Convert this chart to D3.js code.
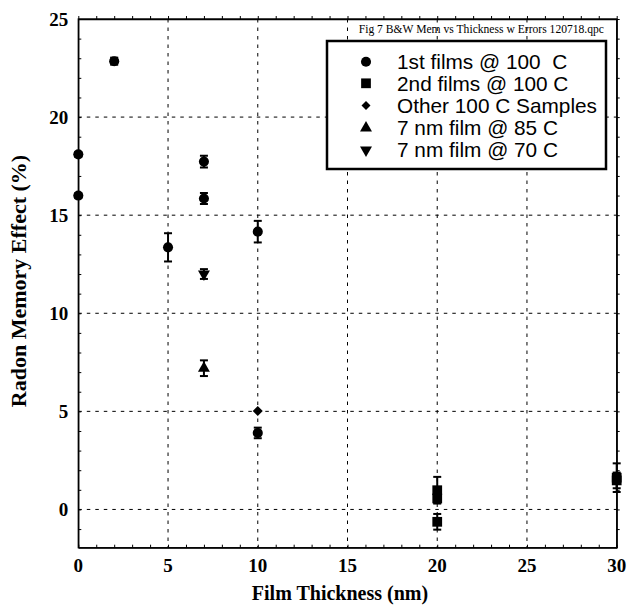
<!DOCTYPE html>
<html>
<head>
<meta charset="utf-8">
<script src="https://cdn.jsdelivr.net/npm/d3@7"></script>
<style>
  body { margin: 0; background: #fff; }
  svg { display: block; }
</style>
</head>
<body>
<svg id="chart" width="627" height="606"></svg>
<script>
// data: film thickness (nm) vs radon memory effect (%)
const firstX = [0, 0, 2, 5, 7, 7, 10, 10];
const firstY = [18.1, 16.0, 22.85, 13.36, 17.73, 15.85, 14.16, 3.9];
const firstErr = [0.12, 0.12, 0.18, 0.72, 0.3, 0.28, 0.55, 0.27];

const secondX = [20, 20, 20, 30, 30];
const secondY = [0.98, 0.56, -0.63, 1.62, 1.48];
const secondErr = [0.68, 0.2, 0.4, 0.73, 0.4];

const otherX = [10];
const otherY = [5.02];
const otherErr = [0];

const film85X = [7];
const film85Y = [7.2];
const film85Err = [0.4];

const film70X = [7];
const film70Y = [12.0];
const film70Err = [0.25];

const xTicks = [0, 5, 10, 15, 20, 25, 30];
const yTicks = [0, 5, 10, 15, 20, 25];

const legendLabels = [
  "1st films @ 100  C",
  "2nd films @ 100 C",
  "Other 100 C Samples",
  "7 nm film @ 85 C",
  "7 nm film @ 70 C",
];

const settings = {
  left: 78.3,
  right: 616.7,
  top: 19,
  bottom: 547.7,
};

const svg = d3.select("#chart");

const x = d3.scaleLinear().domain([0, 30]).range([settings.left, settings.right]);
const y = d3.scaleLinear().domain([-1.95, 25]).range([settings.bottom, settings.top]);

const serif = "'Liberation Serif', 'Times New Roman', serif";
const sans = "'Liberation Sans', Arial, sans-serif";

// dashed grid at the major ticks
const grid = svg.append("g").attr("class", "grid");
grid
  .selectAll("line.vx")
  .data(xTicks.slice(1, -1))
  .join("line")
  .attr("x1", (d) => x(d))
  .attr("x2", (d) => x(d))
  .attr("y1", settings.top)
  .attr("y2", settings.bottom)
  .attr("stroke", "#000")
  .attr("stroke-width", 1)
  .attr("stroke-dasharray", "3.5,5");
grid
  .selectAll("line.hy")
  .data(yTicks.slice(0, -1))
  .join("line")
  .attr("x1", settings.left)
  .attr("x2", settings.right)
  .attr("y1", (d) => y(d))
  .attr("y2", (d) => y(d))
  .attr("stroke", "#000")
  .attr("stroke-width", 1)
  .attr("stroke-dasharray", "3.5,5");

// axes: minor ticks every unit, labels only on left/bottom
const minorX = d3.range(0, 31, 1);
const minorY = d3.range(-1, 26, 1);

svg
  .append("g")
  .attr("transform", `translate(0, ${settings.bottom})`)
  .call(d3.axisBottom(x).tickValues(minorX).tickSize(-3).tickSizeOuter(0).tickFormat(""));
svg
  .append("g")
  .attr("transform", `translate(0, ${settings.top})`)
  .call(d3.axisTop(x).tickValues(minorX).tickSize(3).tickSizeOuter(0).tickFormat(""));
svg
  .append("g")
  .attr("transform", `translate(${settings.left}, 0)`)
  .call(d3.axisLeft(y).tickValues(minorY).tickSize(-3).tickSizeOuter(0).tickFormat(""));
svg
  .append("g")
  .attr("transform", `translate(${settings.right}, 0)`)
  .call(d3.axisRight(y).tickValues(minorY).tickSize(3).tickSizeOuter(0).tickFormat(""));

svg.selectAll(".domain").attr("stroke", "#000").attr("stroke-width", 1.3);

// frame
svg
  .append("rect")
  .attr("x", settings.left)
  .attr("y", settings.top)
  .attr("width", settings.right - settings.left)
  .attr("height", settings.bottom - settings.top)
  .attr("fill", "none")
  .attr("stroke", "#000")
  .attr("stroke-width", 1.3);

// tick labels
svg
  .append("g")
  .selectAll("text")
  .data(xTicks)
  .join("text")
  .attr("x", (d) => x(d))
  .attr("y", settings.bottom + 24)
  .attr("text-anchor", "middle")
  .attr("font-family", serif)
  .attr("font-weight", "bold")
  .attr("font-size", "19px")
  .text((d) => d);
svg
  .append("g")
  .selectAll("text")
  .data(yTicks)
  .join("text")
  .attr("x", settings.left - 10)
  .attr("y", (d) => y(d) + 6.5)
  .attr("text-anchor", "end")
  .attr("font-family", serif)
  .attr("font-weight", "bold")
  .attr("font-size", "19px")
  .text((d) => d);

// axis titles
svg
  .append("text")
  .attr("x", 340)
  .attr("y", 600)
  .attr("text-anchor", "middle")
  .attr("font-family", serif)
  .attr("font-weight", "bold")
  .attr("font-size", "20px")
  .text("Film Thickness (nm)");
svg
  .append("text")
  .attr("transform", "translate(26, 281) rotate(-90)")
  .attr("text-anchor", "middle")
  .attr("font-family", serif)
  .attr("font-weight", "bold")
  .attr("font-size", "22px")
  .text("Radon Memory Effect (%)");

// file name label
svg
  .append("text")
  .attr("x", 604)
  .attr("y", 33)
  .attr("text-anchor", "end")
  .attr("font-family", serif)
  .attr("font-size", "11.6px")
  .text("Fig 7 B&W Mem vs Thickness w Errors 120718.qpc");

// legend
const legend = svg.append("g").attr("class", "legend");
legend
  .append("rect")
  .attr("x", 327)
  .attr("y", 41)
  .attr("width", 279)
  .attr("height", 128)
  .attr("fill", "#fff")
  .attr("stroke", "#000")
  .attr("stroke-width", 2.5);

const shapes = [
  { type: d3.symbolCircle, size: 80, rot: 0 },
  { type: d3.symbolSquare, size: 95, rot: 0 },
  { type: d3.symbolSquare, size: 40, rot: 45 },
  { type: d3.symbolTriangle, size: 62, rot: 0 },
  { type: d3.symbolTriangle, size: 62, rot: 180 },
];

const legendRows = [61.7, 83.3, 105.5, 128, 150];

legend
  .selectAll("path")
  .data(shapes)
  .join("path")
  .attr("d", (d) => d3.symbol(d.type, d.size)())
  .attr("transform", (d, i) => `translate(366, ${legendRows[i]}) rotate(${d.rot})`)
  .attr("fill", "#000");

legend
  .selectAll("text")
  .data(legendLabels)
  .join("text")
  .attr("x", 397)
  .attr("y", (d, i) => legendRows[i] + 7.3)
  .attr("font-family", sans)
  .attr("font-size", "20.8px")
  .attr("fill", "#000")
  .style("white-space", "pre")
  .text((d) => d);

// series with error bars
const series = [
  { xs: firstX, ys: firstY, errs: firstErr, shape: shapes[0] },
  { xs: secondX, ys: secondY, errs: secondErr, shape: shapes[1] },
  { xs: otherX, ys: otherY, errs: otherErr, shape: { type: d3.symbolSquare, size: 50, rot: 45 } },
  { xs: film85X, ys: film85Y, errs: film85Err, shape: shapes[3] },
  { xs: film70X, ys: film70Y, errs: film70Err, shape: shapes[4] },
];

const marks = svg.append("g").attr("class", "marks");
const capW = 4;

series.forEach((s) => {
  const pts = s.xs.map((xv, i) => ({ x: xv, y: s.ys[i], e: s.errs[i] }));
  const g = marks.append("g");
  const withErr = pts.filter((p) => p.e > 0);

  g.selectAll("line.bar")
    .data(withErr)
    .join("line")
    .attr("x1", (d) => x(d.x))
    .attr("x2", (d) => x(d.x))
    .attr("y1", (d) => y(d.y - d.e))
    .attr("y2", (d) => y(d.y + d.e))
    .attr("stroke", "#000")
    .attr("stroke-width", 2);

  [-1, 1].forEach((sign) => {
    g.selectAll(`line.cap${sign}`)
      .data(withErr)
      .join("line")
      .attr("x1", (d) => x(d.x) - capW)
      .attr("x2", (d) => x(d.x) + capW)
      .attr("y1", (d) => y(d.y + sign * d.e))
      .attr("y2", (d) => y(d.y + sign * d.e))
      .attr("stroke", "#000")
      .attr("stroke-width", 2);
  });

  g.selectAll("path")
    .data(pts)
    .join("path")
    .attr("d", d3.symbol(s.shape.type, s.shape.size)())
    .attr("transform", (d) => `translate(${x(d.x)}, ${y(d.y)}) rotate(${s.shape.rot})`)
    .attr("fill", "#000");
});
</script>
</body>
</html>
